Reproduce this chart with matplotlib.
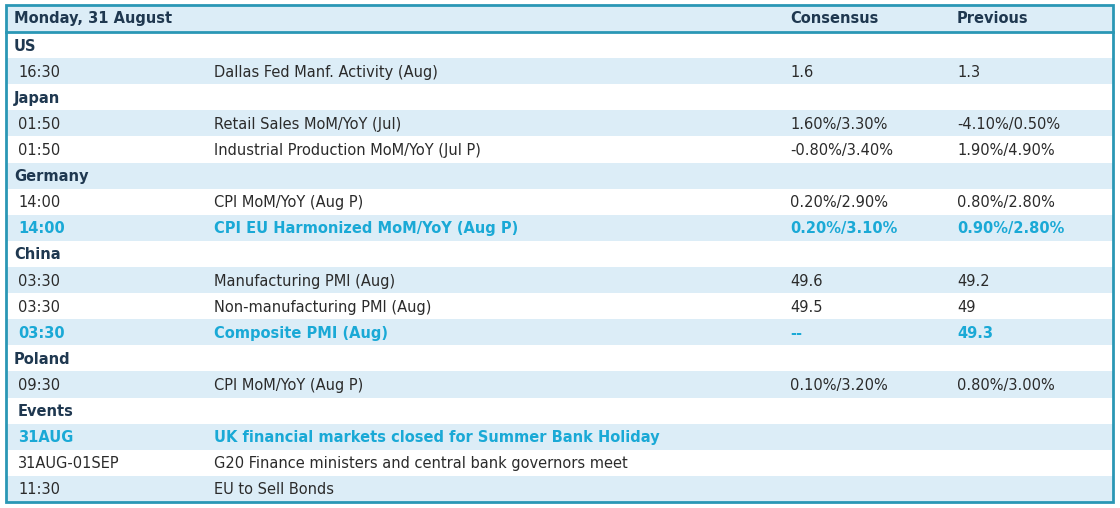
import matplotlib
matplotlib.use("Agg")
import matplotlib.pyplot as plt
from matplotlib.patches import Rectangle

header = ["Monday, 31 August", "", "Consensus", "Previous"]
times = ["US", "16:30", "Japan", "01:50", "01:50", "Germany", "14:00", "14:00", "China",
         "03:30", "03:30", "03:30", "Poland", "09:30", "Events", "31AUG", "31AUG-01SEP", "11:30"]
events = ["", "Dallas Fed Manf. Activity (Aug)", "", "Retail Sales MoM/YoY (Jul)",
          "Industrial Production MoM/YoY (Jul P)", "", "CPI MoM/YoY (Aug P)",
          "CPI EU Harmonized MoM/YoY (Aug P)", "", "Manufacturing PMI (Aug)",
          "Non-manufacturing PMI (Aug)", "Composite PMI (Aug)", "", "CPI MoM/YoY (Aug P)", "",
          "UK financial markets closed for Summer Bank Holiday",
          "G20 Finance ministers and central bank governors meet", "EU to Sell Bonds"]
consensus = ["", "1.6", "", "1.60%/3.30%", "-0.80%/3.40%", "", "0.20%/2.90%", "0.20%/3.10%", "",
             "49.6", "49.5", "--", "", "0.10%/3.20%", "", "", "", ""]
previous = ["", "1.3", "", "-4.10%/0.50%", "1.90%/4.90%", "", "0.80%/2.80%", "0.90%/2.80%", "",
            "49.2", "49", "49.3", "", "0.80%/3.00%", "", "", "", ""]
sections = {"US", "Japan", "Germany", "China", "Poland", "Events"}
highlight = {7, 11, 15}

fig = plt.figure(figsize=(11.2, 5.08), dpi=100)
ax = fig.add_axes([0, 0, 1, 1])
ax.set_xlim(0, 1120); ax.set_ylim(508, 0); ax.axis("off")

L, R, T, B = 6, 1113, 5, 502
hh = 27
rh = (B - T - hh) / len(times)
blue = "#dcedf7"; border = "#2a97b5"; dark = "#1f3850"; txt = "#2b2b2b"; hl = "#1aa9d6"
xs = [14, 214, 790, 957]

ax.add_patch(Rectangle((L, T), R - L, hh, facecolor=blue, edgecolor="none"))
for i, h in enumerate(header):
    ax.text(xs[i], T + hh / 2, h, fontsize=10.5, fontweight="bold", color=dark,
            va="center", family="DejaVu Sans")
ax.plot([L, R], [T + hh, T + hh], color=border, lw=2)

for r in range(len(times)):
    y0 = T + hh + r * rh
    if r % 2 == 1:
        ax.add_patch(Rectangle((L, y0), R - L, rh, facecolor=blue, edgecolor="none"))
    yc = y0 + rh / 2 + 1
    if times[r] in sections:
        ax.text(14 if times[r] != "Events" else 18, yc, times[r], fontsize=10.5,
                fontweight="bold", color=dark, va="center")
        continue
    col = hl if r in highlight else txt
    fw = "bold" if r in highlight else "normal"
    for x, s in zip([18, 214, 790, 957], [times[r], events[r], consensus[r], previous[r]]):
        if s:
            ax.text(x, yc, s, fontsize=10.5, color=col, fontweight=fw, va="center")

ax.add_patch(Rectangle((L, T), R - L, B - T, facecolor="none", edgecolor=border, lw=2))
fig.savefig("out.png", dpi=100)
